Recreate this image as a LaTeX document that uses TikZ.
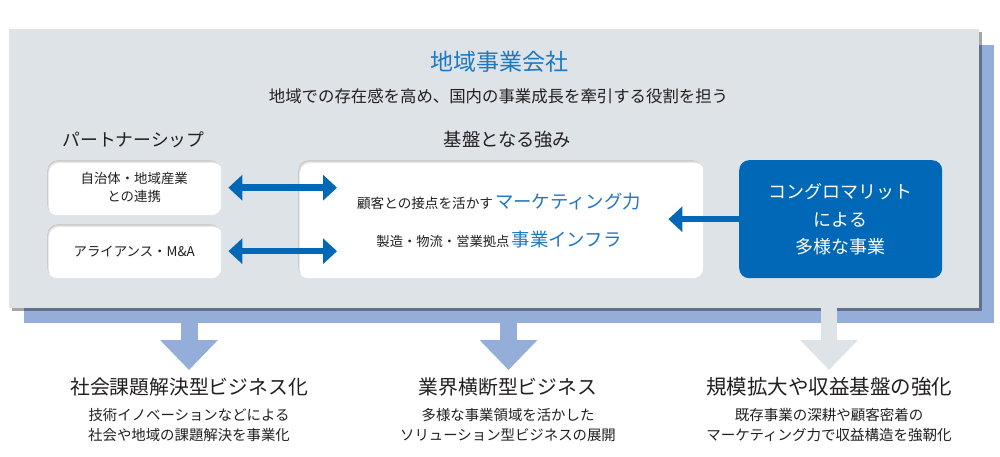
\documentclass[tikz,border=0pt]{standalone}
\usepackage{fontspec}
\setmainfont{Noto Sans CJK JP}
\usetikzlibrary{arrows.meta,shadows,calc}
\definecolor{panelgray}{HTML}{DDE3E7}
\definecolor{backblue}{HTML}{94ADD9}
\definecolor{darkblue}{HTML}{0068B7}
\definecolor{textblue}{HTML}{1E78C2}
\definecolor{txt}{HTML}{231F20}
\begin{document}
\begin{tikzpicture}[x=1pt,y=-1pt,
  txtnode/.style={text=txt, inner sep=0pt, align=center},
  panelbox/.style={fill=panelgray, inner sep=0pt, anchor=north west,
    drop shadow={shadow xshift=2.5pt, shadow yshift=-2.5pt, opacity=.35, fill=black}},
  backbox/.style={fill=backblue, inner sep=0pt, anchor=north west},
  wbox/.style={fill=white, rounded corners=10pt, inner sep=0pt, anchor=north west, text=txt, align=center,
    path picture={
      \fill[black!20] (path picture bounding box.south west) rectangle (path picture bounding box.north east);
      \fill[black!9, rounded corners=10pt] ([xshift=1pt,yshift=-1.5pt]path picture bounding box.north west) rectangle ([xshift=1pt,yshift=-1.5pt]path picture bounding box.south east);
      \fill[white, rounded corners=10pt] ([xshift=2pt,yshift=-3pt]path picture bounding box.north west) rectangle ([xshift=2pt,yshift=-3pt]path picture bounding box.south east);
    }},
  congbox/.style={fill=darkblue, rounded corners=10pt, inner sep=0pt, anchor=north west, text=white, align=center},
  dblarrow/.style={draw=darkblue, line width=6.5pt, {Triangle[width=25pt,length=14pt]}-{Triangle[width=25pt,length=14pt]}},
  sglarrow/.style={draw=darkblue, line width=6.5pt, -{Triangle[width=25pt,length=14pt]}},
  downarrow/.style={line width=17pt, -{Triangle[width=56pt,length=30pt]}}
]
\useasboundingbox[fill=white] (0,0) rectangle (1000,457);

% back and main panels
\node[backbox, minimum width=970, minimum height=278] (back) at (24,45) {};
\node[panelbox, minimum width=970, minimum height=279] (panel) at (9,29) {};

% header texts
\node[txtnode, text=textblue, font=\fontsize{23}{28}\selectfont] (title) at (499,62) {地域事業会社};
\node[txtnode, font=\fontsize{16.4}{20}\selectfont] (subtitle) at (498.5,96) {地域での存在感を高め、国内の事業成長を牽引する役割を担う};
\node[txtnode, font=\fontsize{17.8}{22}\selectfont] (partner) at (133.5,140) {パートナーシップ};
\node[txtnode, font=\fontsize{18.3}{22}\selectfont] (kiban) at (507.5,140) {基盤となる強み};

% partner boxes
\node[wbox, minimum width=174, minimum height=55, font=\fontsize{13.4}{18}\selectfont] (b1) at (47,160) {自治体・地域産業\\との連携};
\node[wbox, minimum width=174, minimum height=54, font=\fontsize{13.4}{18}\selectfont] (b2) at (47,224) {アライアンス・M\&A};

% center box
\node[wbox, minimum width=405, minimum height=118] (ctr) at (298,160) {};
\node[txtnode] (l1) at (499,202) {{\fontsize{13.6}{16}\selectfont 顧客との接点を活かす} {\color{textblue}\fontsize{18.4}{22}\selectfont マーケティング力}};
\node[txtnode] (l2) at (499,240) {{\fontsize{13.3}{16}\selectfont 製造・物流・営業拠点} {\color{textblue}\fontsize{18.4}{22}\selectfont 事業インフラ}};

% conglomerate box
\node[congbox, minimum width=203, minimum height=118, font=\fontsize{18}{27.5}\selectfont] (cong) at (739,160) {コングロマリット\\による\\多様な事業};

% arrows
\draw[dblarrow] ([xshift=7pt]b1.east) -- ([xshift=39pt]ctr.west |- b1.east);
\draw[dblarrow] ([xshift=7pt]b2.east) -- ([xshift=39pt]ctr.west |- b2.east);
\draw[sglarrow] (cong.west) -- ([xshift=-35pt]ctr.east |- cong.west);

% bottom arrows
\coordinate (t1) at (189,370);
\coordinate (t2) at (508.5,370);
\coordinate (t3) at (829,370);
\draw[downarrow, draw=backblue, fill=backblue] ([yshift=1pt]back.south -| t1) -- (t1);
\draw[downarrow, draw=backblue, fill=backblue] ([yshift=1pt]back.south -| t2) -- (t2);
\draw[downarrow, draw=panelgray, fill=panelgray, line width=15.5pt] ([yshift=2pt]panel.south -| t3) -- (t3);

% bottom texts
\node[txtnode, font=\fontsize{19.8}{24}\selectfont] (o1) at (189,387) {社会課題解決型ビジネス化};
\node[txtnode, font=\fontsize{14.4}{20.5}\selectfont, anchor=north] (d1) at (189,408) {技術イノベーションなどによる\\社会や地域の課題解決を事業化};
\node[txtnode, font=\fontsize{19.8}{24}\selectfont] (o2) at (508,387) {業界横断型ビジネス};
\node[txtnode, font=\fontsize{14.4}{20.5}\selectfont, anchor=north] (d2) at (508,408) {多様な事業領域を活かした\\ソリューション型ビジネスの展開};
\node[txtnode, font=\fontsize{20.5}{24}\selectfont] (o3) at (829,387) {規模拡大や収益基盤の強化};
\node[txtnode, font=\fontsize{14.5}{20.5}\selectfont, anchor=north] (d3) at (829,408) {既存事業の深耕や顧客密着の\\マーケティング力で収益構造を強靭化};
\end{tikzpicture}
\end{document}
